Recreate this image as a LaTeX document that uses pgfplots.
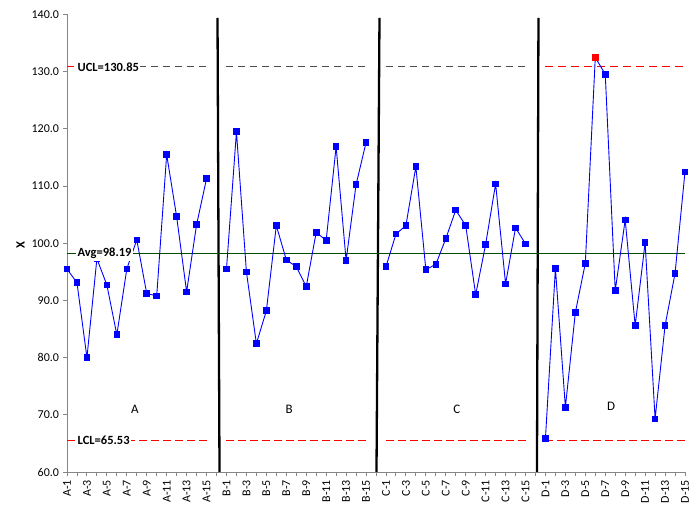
\documentclass[border=0pt]{standalone}
\usepackage{fontspec}
\setmainfont{Carlito}
\usepackage{pgfplots}
\pgfplotsset{compat=1.18}
\definecolor{avggreen}{RGB}{0,110,0}
\definecolor{axgray}{RGB}{134,134,134}
\begin{document}
\begin{tikzpicture}
\begin{axis}[
  set layers,
  scale only axis, width=618pt, height=457.5pt,
  xmin=0, xmax=62, ymin=60, ymax=140,
  axis x line=bottom, axis y line=left,
  axis line style={-, axgray, line width=0.9pt},
  tick style={axgray, line width=0.9pt},
  tick align=outside, major tick length=4.5pt,
  xtick={0,...,62},
  xticklabels={A-1,,A-3,,A-5,,A-7,,A-9,,A-11,,A-13,,A-15,,B-1,,B-3,,B-5,,B-7,,B-9,,B-11,,B-13,,B-15,,C-1,,C-3,,C-5,,C-7,,C-9,,C-11,,C-13,,C-15,,D-1,,D-3,,D-5,,D-7,,D-9,,D-11,,D-13,,D-15},
  x tick label style={rotate=90, anchor=east, font=\fontsize{12}{14}\selectfont},
  ytick={60,70,...,140},
  yticklabel style={font=\fontsize{12}{14}\selectfont, /pgf/number format/.cd, fixed, fixed zerofill, precision=1, assume math mode=true},
  ylabel={\textbf{X}}, ylabel style={font=\fontsize{12.5}{14}\selectfont, xshift=-2pt},
  clip=false,
]
% dividers
\addplot[black, line width=2.3pt] coordinates {(15.1,139.4) (15.3,60)};
\addplot[black, line width=2.3pt] coordinates {(31.35,139.4) (31.05,60)};
\addplot[black, line width=2.3pt] coordinates {(47.3,139.4) (47.15,60)};
% average
\addplot[avggreen!70!black, line width=0.9pt] coordinates {(0,98.19) (62,98.19)};
% UCL
\addplot[black!70, line width=0.8pt, dash pattern=on 7pt off 5pt] coordinates {(0,130.85) (14,130.85)};
\addplot[black!70, line width=0.8pt, dash pattern=on 7pt off 5pt] coordinates {(16,130.85) (30,130.85)};
\addplot[black!70, line width=0.8pt, dash pattern=on 7pt off 5pt] coordinates {(32,130.85) (46,130.85)};
\addplot[red, line width=0.9pt, dash pattern=on 8pt off 5pt] coordinates {(48,130.85) (62,130.85)};
\addplot[red, line width=1pt] coordinates {(0,130.85) (0.6,130.85)};
% LCL
\addplot[red, line width=1pt, dash pattern=on 8pt off 4pt] coordinates {(0,65.53) (14,65.53)};
\addplot[red, line width=1pt, dash pattern=on 8pt off 4pt] coordinates {(16,65.53) (30,65.53)};
\addplot[red, line width=1pt, dash pattern=on 8pt off 4pt] coordinates {(32,65.53) (46,65.53)};
\addplot[red, line width=1pt, dash pattern=on 8pt off 4pt] coordinates {(48,65.53) (62,65.53)};
% data
\addplot[blue, line width=0.9pt, mark=square*, mark size=2.8pt, mark options={solid, fill=blue}] coordinates {
(0,95.5) (1,93.1) (2,80.0) (3,97.3) (4,92.7) (5,84.0) (6,95.5) (7,100.6) (8,91.2) (9,90.8) (10,115.5) (11,104.65) (12,91.5) (13,103.25) (14,111.3)};
\addplot[blue, line width=0.9pt, mark=square*, mark size=2.8pt, mark options={solid, fill=blue}] coordinates {
(16,95.5) (17,119.5) (18,95.0) (19,82.45) (20,88.2) (21,103.1) (22,97.1) (23,95.9) (24,92.4) (25,101.9) (26,100.5) (27,116.9) (28,97.0) (29,110.25) (30,117.6)};
\addplot[blue, line width=0.9pt, mark=square*, mark size=2.8pt, mark options={solid, fill=blue}] coordinates {
(32,95.9) (33,101.6) (34,103.1) (35,113.4) (36,95.4) (37,96.3) (38,100.8) (39,105.8) (40,103.1) (41,91.0) (42,99.8) (43,110.4) (44,92.9) (45,102.7) (46,99.9)};
\addplot[blue, line width=0.9pt, mark=square*, mark size=2.8pt, mark options={solid, fill=blue}] coordinates {
(48,65.9) (49,95.6) (50,71.3) (51,87.9) (52,96.5) (53,132.5) (54,129.55) (55,91.7) (56,104.1) (57,85.6) (58,100.1) (59,69.3) (60,85.6) (61,94.7) (62,112.5)};
\addplot[only marks, mark=square*, mark size=2.8pt, red, mark options={fill=red}] coordinates {(53,132.5)};
% labels
\begin{pgfonlayer}{axis foreground}
\node[anchor=west, fill=white, inner xsep=1.5pt, inner ysep=2.5pt, font=\bfseries\fontsize{12.5}{14}\selectfont] at (axis cs:0.9,130.85) {UCL=130.85};
\node[anchor=west, fill=white, inner xsep=1.5pt, inner ysep=2.5pt, font=\bfseries\fontsize{12.5}{14}\selectfont] at (axis cs:0.9,98.19) {Avg=98.19};
\node[anchor=west, fill=white, inner xsep=1.5pt, inner ysep=2.5pt, font=\bfseries\fontsize{12.5}{14}\selectfont] at (axis cs:0.9,65.53) {LCL=65.53};
\end{pgfonlayer}
\node[font=\fontsize{13}{15}\selectfont] at (axis cs:6.8,70.9) {A};
\node[font=\fontsize{13}{15}\selectfont] at (axis cs:22.3,70.9) {B};
\node[font=\fontsize{13}{15}\selectfont] at (axis cs:39.1,70.9) {C};
\node[font=\fontsize{13}{15}\selectfont] at (axis cs:54.6,71.4) {D};
\end{axis}
\pgfresetboundingbox
\useasboundingbox (-67pt,-39pt) rectangle (632pt,472pt);
\end{tikzpicture}
\end{document}
